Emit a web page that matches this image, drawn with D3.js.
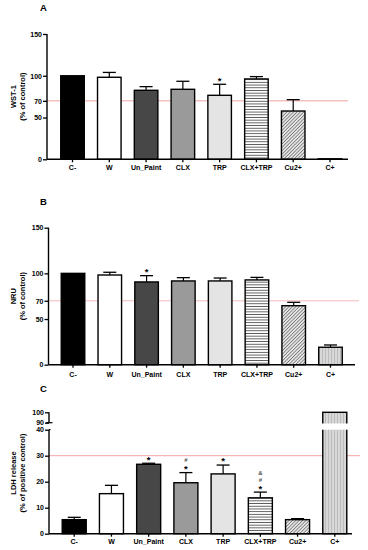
<!DOCTYPE html>
<html>
<head>
<meta charset="utf-8">
<script src="https://cdn.jsdelivr.net/npm/d3@7"></script>
<style>
body { margin: 0; background: #fff; }
svg { display: block; font-family: "Liberation Sans", Arial, sans-serif; font-weight: bold; }
</style>
</head>
<body>
<svg id="chart" width="368" height="550"></svg>
<script>
// data
const categories = ['C-', 'W', 'Un_Paint', 'CLX', 'TRP', 'CLX+TRP', 'Cu2+', 'C+'];

const wstMean = [100, 98.2, 82.6, 83.8, 76.6, 96.2, 57.8, 0.6];
const wstErr  = [0, 5.8, 4.4, 9.6, 13.2, 2.8, 13.6, 0];
const wstSig  = ['', '', '', '', '*', '', '', ''];

const nruMean = [100, 98.2, 90.6, 91.7, 91.7, 92.8, 64.6, 19.1];
const nruErr  = [0, 3, 6.9, 3.6, 3.2, 2.8, 3.7, 2.5];
const nruSig  = ['', '', '*', '', '', '', '', ''];

const ldhMean = [5.4, 15.4, 26.7, 19.6, 23.0, 13.8, 5.4, 100];
const ldhErr  = [0.9, 3.2, 0.4, 3.9, 3.4, 2.2, 0.4, 0];
const ldhSig  = ['', '', '*', '*#', '*', '*#&', '', ''];   // bottom to top

const viabTicks = [0, 50, 70, 100, 150];
const ldhLowTicks = [0, 10, 20, 30, 40];
const ldhHighTicks = [90, 100];

const svg = d3.select('#chart');

// fill patterns
const defs = svg.append('defs');

const hl = defs.append('pattern').attr('id', 'hl')
    .attr('patternUnits', 'userSpaceOnUse').attr('width', 4).attr('height', 2.7);
hl.append('rect').attr('width', 4).attr('height', 2.7).attr('fill', '#fff');
hl.append('line').attr('x1', 0).attr('x2', 4).attr('y1', 1.35).attr('y2', 1.35)
    .attr('stroke', '#333').attr('stroke-width', 0.8);

const dg = defs.append('pattern').attr('id', 'dg')
    .attr('patternUnits', 'userSpaceOnUse').attr('width', 2.4).attr('height', 2.4)
    .attr('patternTransform', 'rotate(45)');
dg.append('rect').attr('width', 2.4).attr('height', 2.4).attr('fill', '#e6e6e6');
dg.append('line').attr('x1', 1.2).attr('x2', 1.2).attr('y1', 0).attr('y2', 2.4)
    .attr('stroke', '#666').attr('stroke-width', 0.7);

const vl = defs.append('pattern').attr('id', 'vl')
    .attr('patternUnits', 'userSpaceOnUse').attr('width', 3).attr('height', 4);
vl.append('rect').attr('width', 3).attr('height', 4).attr('fill', '#d8d8d8');
vl.append('line').attr('x1', 1.5).attr('x2', 1.5).attr('y1', 0).attr('y2', 4)
    .attr('stroke', '#b4b4b4').attr('stroke-width', 0.8);

const fills = ['#000', '#fff', '#474747', '#9a9a9a', '#e4e4e4', 'url(#hl)', 'url(#dg)', 'url(#vl)'];

function yLabel(lines, cy) {
    lines.forEach(function(t, i) {
        svg.append('text')
            .attr('transform', 'translate(' + (16 + i * 9) + ',' + cy + ') rotate(-90)')
            .attr('text-anchor', 'middle')
            .attr('font-size', 7.5)
            .text(t);
    });
}

function panelLetter(t, y) {
    svg.append('text').attr('x', 40).attr('y', y).attr('font-size', 9.5).text(t);
}

function styleAxis(ax) {
    ax.select('.domain').remove();
    ax.selectAll('line').attr('stroke', '#000').attr('stroke-width', 1.3);
    ax.selectAll('text').attr('font-size', 7).attr('font-family', 'Liberation Sans, Arial, sans-serif')
        .attr('font-weight', 'bold').attr('fill', '#000');
}

function errorBars(g, x, yTop, mean, err, sig) {
    mean.forEach(function(m, i) {
        const cx = x(categories[i]) + x.bandwidth() / 2;
        const capY = yTop(m + err[i]);
        if (err[i] > 0) {
            g.append('line').attr('x1', cx).attr('x2', cx)
                .attr('y1', yTop(m)).attr('y2', capY)
                .attr('stroke', '#000').attr('stroke-width', 1.2);
            g.append('line').attr('x1', cx - 6.5).attr('x2', cx + 6.5)
                .attr('y1', capY).attr('y2', capY)
                .attr('stroke', '#000').attr('stroke-width', 1.3);
        }
        // significance marks stacked above the cap
        sig[i].split('').forEach(function(s, k) {
            const fs = s === '*' ? 9.5 : 6;
            const centre = capY - 6 - k * 6.7;
            g.append('text')
                .attr('x', cx)
                .attr('y', centre + (s === '*' ? 0.57 : 0.36) * fs)
                .attr('text-anchor', 'middle')
                .attr('font-size', fs)
                .attr('fill', s === '*' ? '#000' : '#555')
                .text(s);
        });
    });
}

function viabilityPanel(o) {
    const x = d3.scaleBand().domain(categories).range(o.xRange).padding(0.36);
    const y = d3.scaleLinear().domain([0, 150]).range(o.yRange);
    const g = svg.append('g');

    // 70 % threshold
    g.append('line')
        .attr('x1', o.axisX).attr('x2', o.refEnd)
        .attr('y1', y(70)).attr('y2', y(70))
        .attr('stroke', o.refColor).attr('stroke-width', o.refWidth)
        .attr('stroke-dasharray', o.refDash);

    g.selectAll('rect.bar').data(o.mean).join('rect')
        .attr('class', 'bar')
        .attr('x', (d, i) => x(categories[i]))
        .attr('y', d => y(d))
        .attr('width', x.bandwidth())
        .attr('height', d => y(0) - y(d))
        .attr('fill', (d, i) => fills[i])
        .attr('stroke', '#000').attr('stroke-width', 1.4);

    errorBars(g, x, y, o.mean, o.err, o.sig);

    const ay = g.append('g').attr('transform', 'translate(' + o.axisX + ',0)')
        .call(d3.axisLeft(y).tickValues(viabTicks).tickSize(4).tickPadding(1));
    styleAxis(ay);
    g.append('line').attr('x1', o.axisX).attr('x2', o.axisX)
        .attr('y1', y(150)).attr('y2', y(0)).attr('stroke', '#000').attr('stroke-width', 1.4);

    const ax = g.append('g').attr('transform', 'translate(0,' + y(0) + ')')
        .call(d3.axisBottom(x).tickSize(3).tickPadding(o.catPad));
    styleAxis(ax);
    g.append('line').attr('x1', o.axisX).attr('x2', o.axisEnd)
        .attr('y1', y(0)).attr('y2', y(0)).attr('stroke', '#000').attr('stroke-width', 1.4);

    yLabel(o.label, (y(0) + y(150)) / 2);
}

panelLetter('A', 11);
viabilityPanel({
    xRange: [47.5, 355], yRange: [159.3, 34], axisX: 47, axisEnd: 348, refEnd: 348,
    mean: wstMean, err: wstErr, sig: wstSig,
    refColor: '#f29a9a', refWidth: 0.9, refDash: null,
    catPad: 2.5, label: ['WST-1', '(% of control)']
});

panelLetter('B', 205);
viabilityPanel({
    xRange: [48, 355.5], yRange: [364.7, 227.7], axisX: 48.5, axisEnd: 355, refEnd: 359,
    mean: nruMean, err: nruErr, sig: nruSig,
    refColor: '#e8686a', refWidth: 0.9, refDash: '1,1',
    catPad: 4.5, label: ['NRU', '(% of control)']
});

// panel C, broken y axis
panelLetter('C', 392);
(function() {
    const axisX = 49;
    const x = d3.scaleBand().domain(categories).range([49, 360]).padding(0.355);
    const yLow = d3.scaleLinear().domain([0, 40]).range([533.7, 429.7]);
    const yHigh = d3.scaleLinear().domain([90, 100]).range([422.7, 412.3]);
    const yAny = v => v <= 40 ? yLow(v) : yHigh(v);
    const g = svg.append('g');

    g.append('line')
        .attr('x1', axisX).attr('x2', 360)
        .attr('y1', yLow(30)).attr('y2', yLow(30))
        .attr('stroke', '#f29a9a').attr('stroke-width', 0.9);

    g.selectAll('rect.bar').data(ldhMean).join('rect')
        .attr('class', 'bar')
        .attr('x', (d, i) => x(categories[i]))
        .attr('y', d => yAny(d))
        .attr('width', x.bandwidth())
        .attr('height', d => yLow(0) - yAny(d))
        .attr('fill', (d, i) => fills[i])
        .attr('stroke', '#000').attr('stroke-width', 1.4);

    // white gap through the bars that cross the break
    ldhMean.forEach(function(d, i) {
        if (d > 40) {
            g.append('rect')
                .attr('x', x(categories[i]) - 2).attr('width', x.bandwidth() + 4)
                .attr('y', yHigh(90) + 0.8).attr('height', yLow(40) - yHigh(90) - 0.8)
                .attr('fill', '#fff');
        }
    });

    errorBars(g, x, yAny, ldhMean, ldhErr, ldhSig);

    const aLow = g.append('g').attr('transform', 'translate(' + axisX + ',0)')
        .call(d3.axisLeft(yLow).tickValues(ldhLowTicks).tickSize(4).tickPadding(1));
    styleAxis(aLow);
    const aHigh = g.append('g').attr('transform', 'translate(' + axisX + ',0)')
        .call(d3.axisLeft(yHigh).tickValues(ldhHighTicks).tickSize(4).tickPadding(1));
    styleAxis(aHigh);
    g.append('line').attr('x1', axisX).attr('x2', axisX)
        .attr('y1', yLow(40)).attr('y2', yLow(0)).attr('stroke', '#000').attr('stroke-width', 1.4);
    g.append('line').attr('x1', axisX).attr('x2', axisX)
        .attr('y1', yHigh(100)).attr('y2', yHigh(90)).attr('stroke', '#000').attr('stroke-width', 1.4);
    // break marks
    g.append('line').attr('x1', axisX - 3).attr('x2', axisX + 3.5)
        .attr('y1', yHigh(90)).attr('y2', yHigh(90)).attr('stroke', '#000').attr('stroke-width', 1.2);
    g.append('line').attr('x1', axisX).attr('x2', axisX + 1.5)
        .attr('y1', yLow(40)).attr('y2', yLow(40)).attr('stroke', '#000').attr('stroke-width', 1.2);

    const ax = g.append('g').attr('transform', 'translate(0,' + yLow(0) + ')')
        .call(d3.axisBottom(x).tickSize(3).tickPadding(2.8));
    styleAxis(ax);
    g.append('line').attr('x1', axisX).attr('x2', 352)
        .attr('y1', yLow(0)).attr('y2', yLow(0)).attr('stroke', '#000').attr('stroke-width', 1.4);

    yLabel(['LDH release', '(% of positive control)'], (yLow(0) + yHigh(100)) / 2);
})();
</script>
</body>
</html>
